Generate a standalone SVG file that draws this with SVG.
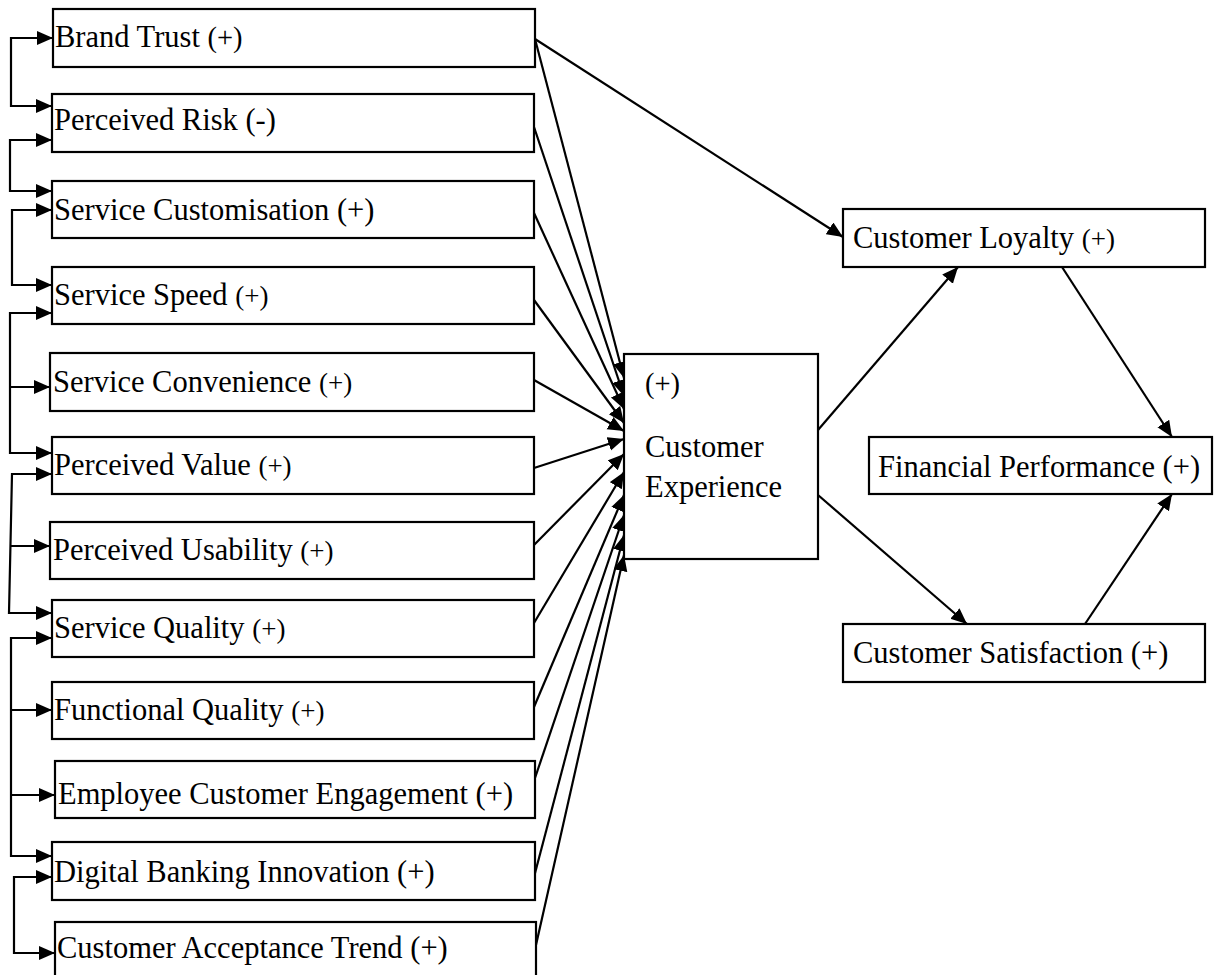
<svg xmlns="http://www.w3.org/2000/svg" width="1232" height="975" viewBox="0 0 1232 975">
<defs>
<marker id="ah" markerUnits="userSpaceOnUse" markerWidth="17" markerHeight="15" refX="16" refY="7" orient="auto-start-reverse">
<path d="M0,0 L16,7 L0,14 z" fill="#000"/>
</marker>
<style>
.box{fill:#fff;stroke:#000;stroke-width:2.2}
.t{font-family:"Liberation Serif","Times New Roman",serif;font-size:30.5px;fill:#000}
.s{font-size:27px}
.a{fill:none;stroke:#000;stroke-width:2.2;marker-end:url(#ah)}
.b{fill:none;stroke:#000;stroke-width:2.2;marker-start:url(#ah);marker-end:url(#ah)}
</style>
</defs>
<rect width="1232" height="975" fill="#fff"/>

<g id="connectors">
<path class="b" d="M53,38 H11 V106 H52"/>
<path class="b" d="M52,140 H10 V191 H52"/>
<path class="b" d="M52,210 H12 V285 H52"/>
<path class="b" d="M52,313 H10 V453 H52"/>
<path class="a" d="M10,387 H50"/>
<path class="b" d="M52,474 H12 L9,613 H52"/>
<path class="a" d="M11,546 H50"/>
<path class="b" d="M52,638 H11 V856 H52"/>
<path class="a" d="M11,710 H52"/>
<path class="a" d="M11,795 H55"/>
<path class="b" d="M52,877 H14 V953 H55"/>
<path class="a" d="M535,39 L624,378"/>
<path class="a" d="M534,127 L624,396"/>
<path class="a" d="M534,213 L624,409"/>
<path class="a" d="M534,300 L624,423"/>
<path class="a" d="M534,380 L624,431"/>
<path class="a" d="M534,468 L624,439"/>
<path class="a" d="M534,545 L624,454"/>
<path class="a" d="M534,623 L624,472"/>
<path class="a" d="M534,707 L624,495"/>
<path class="a" d="M535,778 L624,515"/>
<path class="a" d="M534,877 L624,535"/>
<path class="a" d="M536,945 L624,555"/>
<path class="a" d="M535,39 L843,237"/>
<path class="a" d="M818,430 L958,267"/>
<path class="a" d="M818,495 L967,624"/>
<path class="a" d="M1062,267 L1172,437"/>
<path class="a" d="M1085,624 L1172,494"/>
</g>

<g id="n-brand-trust"><rect class="box" x="53" y="9" width="482" height="58"/><text class="t" x="55" y="47">Brand Trust <tspan style="font-size:28.5px">(+)</tspan></text></g>
<g id="n-perceived-risk"><rect class="box" x="52" y="94" width="482" height="58"/><text class="t" x="54" y="130">Perceived Risk (-)</text></g>
<g id="n-service-customisation"><rect class="box" x="52" y="181" width="482" height="57"/><text class="t" x="54" y="220">Service Customisation (+)</text></g>
<g id="n-service-speed"><rect class="box" x="52" y="267" width="482" height="57"/><text class="t" x="54" y="305">Service Speed <tspan class="s">(+)</tspan></text></g>
<g id="n-service-convenience"><rect class="box" x="50" y="353" width="484" height="58"/><text class="t" x="53" y="392">Service Convenience <tspan class="s">(+)</tspan></text></g>
<g id="n-perceived-value"><rect class="box" x="52" y="437" width="482" height="57"/><text class="t" x="54" y="475">Perceived Value <tspan class="s">(+)</tspan></text></g>
<g id="n-perceived-usability"><rect class="box" x="50" y="522" width="484" height="57"/><text class="t" x="53" y="560">Perceived Usability <tspan class="s">(+)</tspan></text></g>
<g id="n-service-quality"><rect class="box" x="52" y="600" width="482" height="57"/><text class="t" x="54" y="638">Service Quality <tspan class="s">(+)</tspan></text></g>
<g id="n-functional-quality"><rect class="box" x="52" y="682" width="482" height="57"/><text class="t" x="54" y="720">Functional Quality <tspan class="s">(+)</tspan></text></g>
<g id="n-employee-engagement"><rect class="box" x="55" y="761" width="480" height="57"/><text class="t" x="58" y="804">Employee Customer Engagement (+)</text></g>
<g id="n-digital-banking"><rect class="box" x="52" y="842" width="483" height="58"/><text class="t" x="54" y="882">Digital Banking Innovation (+)</text></g>
<g id="n-customer-acceptance"><rect class="box" x="55" y="922" width="481" height="70"/><text class="t" x="57" y="958">Customer Acceptance Trend (+)</text></g>

<g id="n-customer-experience"><rect class="box" x="624" y="354" width="194" height="205"/>
<text class="t" x="645" y="393" style="font-size:28.5px">(+)</text>
<text class="t" x="645" y="457">Customer</text>
<text class="t" x="645" y="497">Experience</text></g>

<g id="n-customer-loyalty"><rect class="box" x="843" y="209" width="362" height="58"/><text class="t" x="853" y="248">Customer Loyalty <tspan class="s">(+)</tspan></text></g>
<g id="n-financial-performance"><rect class="box" x="869" y="437" width="343" height="57"/><text class="t" x="878" y="477">Financial Performance (+)</text></g>
<g id="n-customer-satisfaction"><rect class="box" x="843" y="624" width="362" height="58"/><text class="t" x="853" y="663">Customer Satisfaction (+)</text></g>
</svg>
